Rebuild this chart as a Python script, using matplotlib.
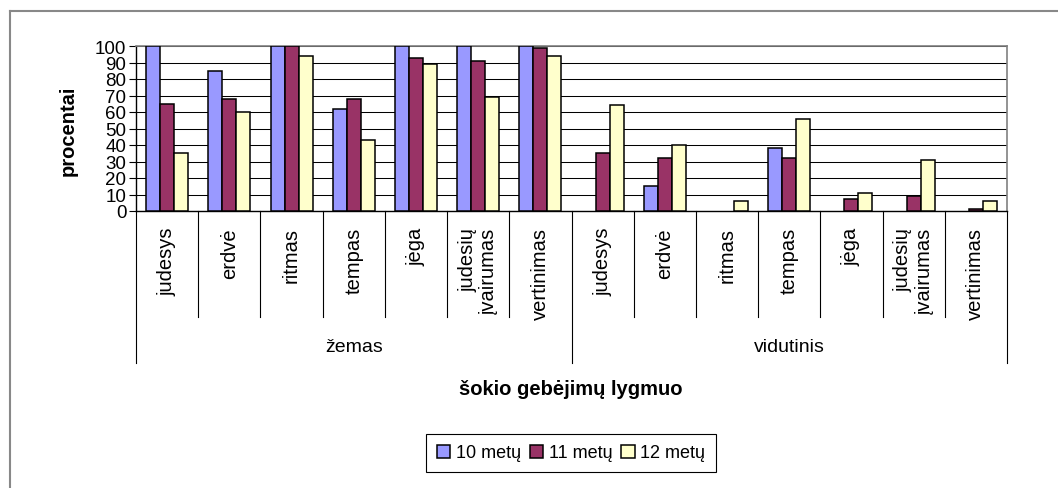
import numpy as np
import matplotlib.pyplot as plt
from matplotlib.lines import Line2D

plt.rcParams['font.family'] = ['Liberation Sans', 'DejaVu Sans']

skills = ['judesys', 'erdvė', 'ritmas', 'tempas', 'jėga',
          'judesių\nįvairumas', 'vertinimas']
levels = ['žemas', 'vidutinis']
series = ['10 metų', '11 metų', '12 metų']

age10 = [100, 85, 100, 62, 100, 100, 100,
         0, 15, 0, 38, 0, 0, 0]
age11 = [65, 68, 100, 68, 93, 91, 99,
         35, 32, 0, 32, 7, 9, 1]
age12 = [35, 60, 94, 43, 89, 69, 94,
         64, 40, 6, 56, 11, 31, 6]

colors = ['#9999FF', '#993366', '#FFFFCC']

W, H = 1058, 489
fig = plt.figure(figsize=(W / 100, H / 100), dpi=100)
ax = fig.add_axes([136 / W, (H - 212) / H, (1007 - 136) / W, (212 - 47) / H])

n = len(age10)
x = np.arange(n) + 0.5
bw = 0.225
for k, vals in enumerate([age10, age11, age12]):
    bars = ax.bar(x + (k - 1) * bw, vals, bw, color=colors[k], edgecolor='black',
                  linewidth=1.1, label=series[k], zorder=3)
    # Excel draws nothing for zero values
    for b, v in zip(bars, vals):
        if v == 0:
            b.set_visible(False)

ax.set_xlim(0, n)
ax.set_ylim(0, 100)
ax.set_yticks(range(0, 101, 10))
ax.tick_params(axis='y', labelsize=13.5, length=5, width=0.8, direction='out', pad=2)
ax.set_xticks([])
ax.yaxis.grid(True, color='black', linewidth=0.75, zorder=0)
ax.set_axisbelow(True)
for s in ['top', 'right']:
    ax.spines[s].set_color('#808080')
    ax.spines[s].set_linewidth(1.2)
ax.spines['left'].set_linewidth(1.0)
ax.spines['bottom'].set_linewidth(1.0)

# category axis: separators and labels
tr = ax.get_xaxis_transform()
cat_bottom = -(318 - 212) / 165
grp_bottom = -(364 - 212) / 165
for i in range(n + 1):
    y0 = grp_bottom if i in (0, 7, 14) else cat_bottom
    ax.plot([i, i], [0, y0], color='black', linewidth=0.8, transform=tr,
            clip_on=False)

labels = skills + skills
for i, lab in enumerate(labels):
    ax.text(x[i], -16 / 165, lab, transform=tr, rotation=90, ha='center',
            va='top', fontsize=14.5, linespacing=1.1, multialignment='right')

for g, lev in enumerate(levels):
    ax.text(g * 7 + 3.5, -(348 - 212) / 165, lev, transform=tr, ha='center',
            va='center', fontsize=14)

fig.text(571 / W, 1 - 390 / H, 'šokio gebėjimų lygmuo', ha='center',
         va='center', fontsize=14.5, fontweight='bold')
fig.text(68 / W, 1 - 131 / H, 'procentai', rotation=90, ha='center',
         va='center', fontsize=14.5, fontweight='bold')

leg = fig.legend(loc='center', bbox_to_anchor=(571 / W, 1 - 454 / H), ncol=3,
                 fontsize=13, handlelength=0.75, handleheight=0.75,
                 handletextpad=0.3, columnspacing=0.5, borderpad=0.6,
                 fancybox=False, edgecolor='black', framealpha=1)
leg.get_frame().set_linewidth(0.8)

# outer chart frame (partly cropped)
fig.add_artist(Line2D([10 / W, 10 / W], [0, 1 - 12 / H], color='#888888',
                      linewidth=1.5, transform=fig.transFigure))
fig.add_artist(Line2D([10 / W, 1], [1 - 12 / H, 1 - 12 / H], color='#888888',
                      linewidth=1.5, transform=fig.transFigure))

fig.savefig('out.png', dpi=100)
